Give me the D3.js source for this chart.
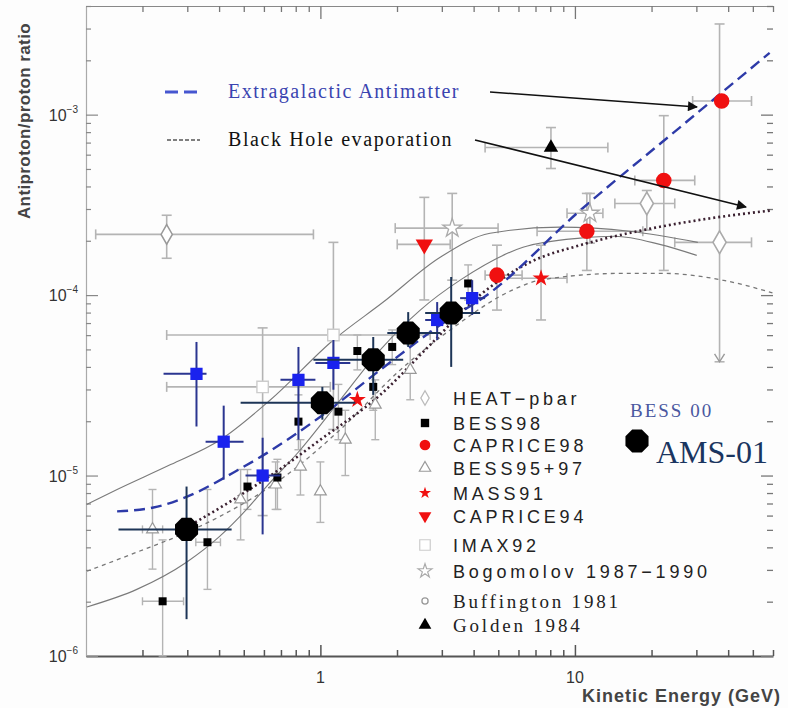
<!DOCTYPE html>
<html>
<head>
<meta charset="utf-8">
<script src="https://cdn.jsdelivr.net/npm/d3@7"></script>
<style>
body { margin: 0; background: #fff; }
svg { display: block; }
</style>
</head>
<body>
<div id="chart"></div>
<script>
// Axis ranges
const xDomain = [0.12, 60]
const yDomain = [1e-6, 4e-3]
const yMajorTicks = [1e-6, 1e-5, 1e-4, 1e-3]
const yTickExp = ['−6', '−5', '−4', '−3']
const xMajorTicks = [1, 10]
const xTickLabels = ['1', '10']

// Model curves [E (GeV), ratio]
const upperSolid = [[0.121, 6.92e-6], [0.159, 8.37e-6], [0.258, 1.15e-5], [0.405, 1.58e-5], [0.637, 2.63e-5],
    [1.125, 5.64e-5], [1.767, 9.15e-5], [2.956, 1.62e-4], [4.64, 2.2e-4], [8.73, 2.38e-4], [16.4, 2.26e-4], [30.4, 1.96e-4]]
const lowerSolid = [[0.121, 1.87e-6], [0.19, 2.34e-6], [0.298, 3.31e-6], [0.402, 4.6e-6], [0.513, 6.49e-6],
    [0.614, 8.69e-6], [0.835, 1.39e-5], [1.198, 2.63e-5], [1.719, 4.97e-5], [2.467, 8.26e-5], [3.54, 1.21e-4],
    [6.25, 1.84e-4], [10.47, 2.07e-4], [14.35, 2.12e-4], [21.54, 1.91e-4], [30.1, 1.66e-4]]
const extragalactic = [[0.159, 6.33e-6], [0.221, 6.65e-6], [0.301, 7.66e-6], [0.456, 1.04e-5], [0.62, 1.34e-5],
    [1.0, 2.12e-5], [1.719, 3.85e-5], [2.956, 6.82e-5], [4.64, 1.03e-4], [10.18, 2.84e-4], [25.8, 8.48e-4], [58.2, 2.2e-3]]
const blackHole = [[0.298, 5.16e-6], [0.456, 7.37e-6], [0.716, 1.12e-5], [1.0, 1.58e-5], [1.719, 2.8e-5],
    [2.7, 5.3e-5], [4.24, 1.0e-4], [6.66, 1.52e-4], [10.47, 1.89e-4], [18.48, 2.29e-4], [33.8, 2.66e-4], [59.7, 2.95e-4]]
const background = [[0.121, 2.95e-6], [0.19, 3.76e-6], [0.298, 4.84e-6], [0.402, 5.93e-6], [0.697, 9.5e-6],
    [1.198, 1.8e-5], [2.06, 3.85e-5], [3.236, 6.41e-5], [5.71, 1.07e-4], [7.29, 1.21e-4], [15.42, 1.32e-4],
    [22.1, 1.32e-4], [38.0, 1.21e-4], [59.7, 1.03e-4]]

// Measurements [E, ratio, Elo, Ehi, Rlo, Rhi]
const buffington = [[0.249, 2.17e-4, 0.131, 0.939, 1.6e-4, 2.77e-4]]
const heat = [[19.16, 3.22e-4, 14.35, 24.67, 2.29e-4, 3.8e-4], [37.0, 1.96e-4, 24.67, 49.4, 4.27e-5, 3.18e-3]]
const golden = [[8.05, 6.57e-4, 4.437, 13.47, 5.03e-4, 8.48e-4]]
const caprice98 = [[37.7, 1.19e-3, 29.0, 49.4, null, null], [22.34, 4.32e-4, 17.19, 29.56, 1.37e-4, 9.87e-4],
    [11.14, 2.26e-4, 7.1, 18.48, 1.37e-4, 3.66e-4], [4.94, 1.29e-4, 4.437, 6.2, 8.26e-5, 1.89e-4]]
const mass91 = [[1.397, 2.63e-5, null, null, null, null], [7.36, 1.24e-4, 4.86, 9.31, 7.28e-5, 1.89e-4]]
const caprice94 = [[2.56, 1.91e-4, 2.004, 3.236, 9.4e-5, 3.48e-4]]
const bogomolov = [[3.295, 2.35e-4, 1.968, 4.99, 1.21e-4, 3.66e-4], [11.45, 2.84e-4, 9.31, 12.88, 1.94e-4, 3.66e-4]]
const imax92 = [[0.593, 3.1e-5, 0.249, 1.094, 6e-6, 6.58e-5], [1.125, 6.01e-5, 0.249, 2.7, 1.8e-5, 1.96e-4]]
const bess9597 = [[0.219, 5.03e-6, 0.2, 0.24, 3.03e-6, 8.37e-6], [0.486, 7.37e-6, null, null, 4.4e-6, 1.08e-5],
    [0.667, 8.91e-6, null, null, 6.49e-6, 1.19e-5], [0.835, 1.12e-5, null, null, 7.8e-6, 1.58e-5],
    [1.0, 8.16e-6, null, null, 5.5e-6, 1.19e-5], [1.253, 1.58e-5, null, null, 1.0e-5, 2.3e-5],
    [1.643, 2.47e-5, null, null, 1.58e-5, 3.39e-5], [2.254, 3.85e-5, null, null, 2.63e-5, 5.3e-5]]
const bess98 = [[0.24, 2.01e-6, 0.2, 0.29, 1.0e-6, 4.4e-6], [0.36, 4.27e-6, 0.324, 0.405, 2.34e-6, 8.37e-6],
    [0.517, 8.69e-6, null, null, 6.49e-6, 1.08e-5], [0.678, 9.75e-6, null, null, 6.49e-6, 1.23e-5],
    [0.82, 1.99e-5, null, null, 1.39e-5, 2.8e-5], [1.177, 2.26e-5, null, null, 1.58e-5, 3.2e-5],
    [1.397, 4.9e-5, null, null, 3.85e-5, 6.01e-5], [1.613, 3.1e-5, null, null, 2.3e-5, 4.38e-5],
    [1.915, 5.16e-5, null, null, 4.12e-5, 6.41e-5], [3.806, 1.16e-4, null, null, 9.38e-5, 1.47e-4]]
const bess00 = [[0.326, 3.66e-5, 0.242, 0.357, 1.87e-5, 5.5e-5], [0.417, 1.54e-5, 0.354, 0.499, 9.5e-6, 2.44e-5],
    [0.593, 1.0e-5, 0.508, 0.697, 4.72e-6, 1.62e-5], [0.82, 3.39e-5, 0.697, 0.956, 1.58e-5, 5.16e-5],
    [1.125, 4.21e-5, 0.956, 1.311, 2.99e-5, 5.64e-5], [2.876, 7.28e-5, 2.58, 3.236, 5.64e-5, 9.15e-5],
    [3.948, 9.62e-5, 3.54, 4.437, 7.76e-5, 1.21e-4]]
const ams01 = [[0.298, 5.03e-6, 0.161, 0.448, 1.6e-6, 8.69e-6], [1.018, 2.53e-5, 0.486, 1.371, 2.04e-5, 3.1e-5],
    [1.613, 4.38e-5, 0.939, 2.115, 2.8e-5, 5.86e-5], [2.213, 6.17e-5, 1.832, 2.956, 5.16e-5, 8.05e-5],
    [3.265, 7.96e-5, 2.58, 4.24, 4.0e-5, 1.26e-4]]

const legendNames = ['HEAT−pbar', 'BESS98', 'CAPRICE98', 'BESS95+97', 'MASS91', 'CAPRICE94',
    'IMAX92', 'Bogomolov 1987−1990', 'Buffington 1981', 'Golden 1984']

// Styles
const greyBar = '#b4b4b4'
const navy = '#1d3557'
const redFill = '#f01010'
const blueFill = '#1a22ee'
const curveGrey = '#7a7a7a'

const width = 788, height = 708
const plotLeft = 86, plotRight = 773, plotTop = 6, plotBottom = 656

const svg = d3.select('#chart').append('svg')
    .attr('width', width).attr('height', height)
    .style('background', '#fdfdfd')

const x = d3.scaleLog().domain(xDomain).range([plotLeft, plotRight])
const y = d3.scaleLog().domain(yDomain).range([plotBottom, plotTop])

const defs = svg.append('defs')
defs.append('marker').attr('id', 'arrow')
    .attr('viewBox', '0 0 10 10').attr('refX', 9).attr('refY', 5)
    .attr('markerWidth', 14).attr('markerHeight', 10).attr('markerUnits', 'userSpaceOnUse')
    .attr('orient', 'auto')
    .append('path').attr('d', 'M0,0 L10,5 L0,10 Z').attr('fill', '#111')

// Frame and ticks
const minorX = x.ticks()
const minorY = y.ticks()
const ax = svg.append('g').attr('class', 'axes')

ax.append('g').attr('transform', `translate(0,${plotBottom})`)
    .call(d3.axisBottom(x).tickValues(minorX).tickSizeInner(-6).tickSizeOuter(0).tickFormat(''))
    .call(g => g.select('.domain').attr('stroke', '#555').attr('stroke-width', 2))
    .call(g => g.selectAll('.tick line').attr('stroke', '#555').attr('stroke-width', 1.5)
        .attr('y2', d => xMajorTicks.includes(d) ? -11 : -6))

ax.append('g').attr('transform', `translate(0,${plotTop})`)
    .call(d3.axisTop(x).tickValues(minorX).tickSizeInner(-6).tickSizeOuter(0).tickFormat(''))
    .call(g => g.select('.domain').attr('stroke', '#888').attr('stroke-width', 1.2))
    .call(g => g.selectAll('.tick line').attr('stroke', '#777').attr('stroke-width', 1.3)
        .attr('y2', d => xMajorTicks.includes(d) ? 13 : 6))

ax.append('g').attr('transform', `translate(${plotLeft},0)`)
    .call(d3.axisLeft(y).tickValues(minorY).tickSizeInner(-5).tickSizeOuter(0).tickFormat(''))
    .call(g => g.select('.domain').attr('stroke', '#aaa').attr('stroke-width', 1.2))
    .call(g => g.selectAll('.tick line').attr('stroke', '#888').attr('stroke-width', 1.2)
        .attr('x2', d => yMajorTicks.includes(d) ? 12 : 5))

ax.append('g').attr('transform', `translate(${plotRight},0)`)
    .call(d3.axisRight(y).tickValues(minorY).tickSizeInner(-6).tickSizeOuter(0).tickFormat(''))
    .call(g => g.select('.domain').attr('stroke', 'none'))
    .call(g => g.selectAll('.tick line').attr('stroke', '#777').attr('stroke-width', 1.3)
        .attr('x2', d => yMajorTicks.includes(d) ? -12 : -6))

// Tick labels
const yLab = svg.append('g').selectAll('text').data(yMajorTicks).join('text')
    .attr('x', 78).attr('y', d => y(d) + 6)
    .attr('text-anchor', 'end')
    .attr('font-family', 'Liberation Sans, Arial, sans-serif')
    .attr('font-size', 16).attr('fill', '#333')
yLab.append('tspan').text('10')
yLab.append('tspan').attr('dy', -8).attr('font-size', 10).text((d, i) => yTickExp[i])

svg.append('g').selectAll('text').data(xMajorTicks).join('text')
    .attr('x', d => x(d)).attr('y', 683)
    .attr('text-anchor', 'middle')
    .attr('font-family', 'Liberation Sans, Arial, sans-serif')
    .attr('font-size', 16).attr('fill', '#333')
    .text((d, i) => xTickLabels[i])

svg.append('text').attr('x', 781).attr('y', 702).attr('text-anchor', 'end')
    .attr('font-family', 'Liberation Sans, Arial, sans-serif').attr('font-weight', 'bold')
    .attr('font-size', 18).attr('letter-spacing', 1).attr('fill', '#444')
    .text('Kinetic Energy (GeV)')

svg.append('text').attr('transform', 'translate(30,121) rotate(-90)').attr('text-anchor', 'middle')
    .attr('font-family', 'Liberation Sans, Arial, sans-serif').attr('font-weight', 'bold')
    .attr('font-size', 17).attr('letter-spacing', 0.4).attr('fill', '#444')
    .text('Antiproton/proton ratio')

// Error bars
function errorBars(data, color, w, cap) {
    const g = svg.append('g').attr('stroke', color).attr('stroke-width', w).attr('fill', 'none')
    data.forEach(d => {
        const cx = x(d[0]), cy = y(d[1])
        if (d[2] != null) {
            g.append('line').attr('x1', x(d[2])).attr('x2', x(d[3])).attr('y1', cy).attr('y2', cy)
            if (cap) {
                g.append('line').attr('x1', x(d[2])).attr('x2', x(d[2])).attr('y1', cy - cap).attr('y2', cy + cap)
                g.append('line').attr('x1', x(d[3])).attr('x2', x(d[3])).attr('y1', cy - cap).attr('y2', cy + cap)
            }
        }
        if (d[4] != null) {
            g.append('line').attr('x1', cx).attr('x2', cx).attr('y1', y(d[4])).attr('y2', y(d[5]))
            if (cap) {
                g.append('line').attr('x1', cx - cap).attr('x2', cx + cap).attr('y1', y(d[4])).attr('y2', y(d[4]))
                g.append('line').attr('x1', cx - cap).attr('x2', cx + cap).attr('y1', y(d[5])).attr('y2', y(d[5]))
            }
        }
    })
}

errorBars(buffington, greyBar, 1.6, 5)
errorBars(heat, greyBar, 1.6, 5)
errorBars(golden, greyBar, 1.6, 5)
errorBars(caprice98, greyBar, 1.6, 5)
errorBars(mass91, greyBar, 1.6, 5)
errorBars(caprice94, greyBar, 1.6, 5)
errorBars(bogomolov, greyBar, 1.6, 5)
errorBars(imax92, greyBar, 1.6, 5)
errorBars(bess9597, greyBar, 1.4, 4)
errorBars(bess98, greyBar, 1.4, 4)

// HEAT upper limit arrow head
svg.append('path')
    .attr('d', `M${x(heat[1][0]) - 5},${y(heat[1][4]) - 8} L${x(heat[1][0])},${y(heat[1][4])} L${x(heat[1][0]) + 5},${y(heat[1][4]) - 8}`)
    .attr('fill', 'none').attr('stroke', '#999').attr('stroke-width', 1.4)

// Curves
const line = d3.line().x(d => x(d[0])).y(d => y(d[1])).curve(d3.curveMonotoneX)
svg.append('path').datum(upperSolid).attr('d', line).attr('fill', 'none').attr('stroke', curveGrey).attr('stroke-width', 1.1)
svg.append('path').datum(lowerSolid).attr('d', line).attr('fill', 'none').attr('stroke', curveGrey).attr('stroke-width', 1.1)
svg.append('path').datum(background).attr('d', line).attr('fill', 'none').attr('stroke', '#777')
    .attr('stroke-width', 1.3).attr('stroke-dasharray', '4,4')
svg.append('path').datum(blackHole).attr('d', line).attr('fill', 'none').attr('stroke', '#3a2030')
    .attr('stroke-width', 2.6).attr('stroke-dasharray', '2,3')
svg.append('path').datum(extragalactic).attr('d', line).attr('fill', 'none').attr('stroke', '#2d3aa8')
    .attr('stroke-width', 2.4).attr('stroke-dasharray', '11,6')

// Markers
function octagon(r) {
    const pts = d3.range(8).map(i => {
        const a = Math.PI / 8 + i * Math.PI / 4
        return [r * Math.cos(a), r * Math.sin(a)]
    })
    return 'M' + pts.join('L') + 'Z'
}
const sym = (type, size) => d3.symbol().type(type).size(size)()

function points(data, path, fill, stroke, sw, rot) {
    svg.append('g').selectAll('path').data(data).join('path')
        .attr('transform', d => `translate(${x(d[0])},${y(d[1])})` + (rot ? ` rotate(${rot})` : ''))
        .attr('d', path).attr('fill', fill).attr('stroke', stroke).attr('stroke-width', sw)
}

points(buffington, sym(d3.symbolDiamond, 110), '#fff', '#999', 1.5)
points(heat, sym(d3.symbolDiamond, 150), '#fff', '#aaa', 1.6)
points(imax92, sym(d3.symbolSquare, 130), '#fff', '#ccc', 1.4)
points(bogomolov, sym(d3.symbolStar, 110), '#fff', '#aaa', 1.3)
points(bess9597, sym(d3.symbolTriangle, 60), '#fff', '#999', 1.2)
points(bess98, sym(d3.symbolSquare, 64), '#000', 'none', 0)
points(golden, sym(d3.symbolTriangle, 90), '#000', 'none', 0)
points(caprice94, sym(d3.symbolTriangle, 130), redFill, 'none', 0, 180)
points(mass91, sym(d3.symbolStar, 90), redFill, 'none', 0)
points(caprice98, d3.symbol().type(d3.symbolCircle).size(190)(), redFill, 'none', 0)

errorBars(bess00, '#2a3590', 2, 0)
points(bess00, sym(d3.symbolSquare, 150), blueFill, 'none', 0)
errorBars(ams01, navy, 2, 0)
points(ams01, octagon(12.5), '#000', 'none', 0)

// Annotations
const serif = 'Liberation Serif, Times New Roman, serif'
svg.append('line').attr('x1', 165).attr('x2', 200).attr('y1', 92).attr('y2', 92)
    .attr('stroke', '#4656d0').attr('stroke-width', 3).attr('stroke-dasharray', '13,6')
svg.append('text').attr('x', 228).attr('y', 98).attr('font-family', serif).attr('font-size', 20)
    .attr('letter-spacing', 1.5).attr('fill', '#3a44b0').text('Extragalactic Antimatter')
svg.append('line').attr('x1', 167).attr('x2', 200).attr('y1', 140).attr('y2', 140)
    .attr('stroke', '#555').attr('stroke-width', 1.4).attr('stroke-dasharray', '4,2')
svg.append('text').attr('x', 228).attr('y', 146).attr('font-family', serif).attr('font-size', 20)
    .attr('letter-spacing', 1.6).attr('fill', '#111').text('Black Hole evaporation')

svg.append('line').attr('x1', 490).attr('y1', 92).attr('x2', 697).attr('y2', 107)
    .attr('stroke', '#111').attr('stroke-width', 1.6).attr('marker-end', 'url(#arrow)')
svg.append('line').attr('x1', 475).attr('y1', 140).attr('x2', 746).attr('y2', 207)
    .attr('stroke', '#111').attr('stroke-width', 1.6).attr('marker-end', 'url(#arrow)')

// Legend
const legendX = 425, legendTextX = 453
const legendBase = [405, 430, 452, 475, 500, 523, 552, 578, 608, 632]
const legendSyms = [
    [sym(d3.symbolDiamond, 60), '#fff', '#bbb', 1.3, 0],
    [sym(d3.symbolSquare, 70), '#000', 'none', 0, 0],
    [d3.symbol().type(d3.symbolCircle).size(90)(), redFill, 'none', 0, 0],
    [sym(d3.symbolTriangle, 55), '#fff', '#999', 1.2, 0],
    [sym(d3.symbolStar, 45), redFill, 'none', 0, 0],
    [sym(d3.symbolTriangle, 70), redFill, 'none', 0, 180],
    [sym(d3.symbolSquare, 110), '#fff', '#ccc', 1.2, 0],
    [sym(d3.symbolStar, 60), '#fff', '#aaa', 1.2, 0],
    [sym(d3.symbolCircle, 30), '#fff', '#999', 1.3, 0],
    [sym(d3.symbolTriangle, 70), '#000', 'none', 0, 0]
]
const leg = svg.append('g')
legendNames.forEach((name, i) => {
    const s = legendSyms[i]
    leg.append('path').attr('d', s[0])
        .attr('transform', `translate(${legendX},${legendBase[i] - 7}) rotate(${s[4]})`)
        .attr('fill', s[1]).attr('stroke', s[2]).attr('stroke-width', s[3])
    const isSerif = i >= 8
    leg.append('text').attr('x', legendTextX).attr('y', legendBase[i])
        .attr('font-family', isSerif ? serif : 'Liberation Sans, Arial, sans-serif')
        .attr('font-size', isSerif ? 19 : 18)
        .attr('letter-spacing', isSerif ? 2.8 : 3.8)
        .attr('fill', '#222').text(name)
})

svg.append('text').attr('x', 630).attr('y', 417).attr('font-family', serif).attr('font-size', 19)
    .attr('letter-spacing', 2).attr('fill', '#4a58a0').text('BESS 00')
svg.append('path').attr('d', octagon(12.5)).attr('transform', 'translate(637,441)').attr('fill', '#000')
svg.append('text').attr('x', 656).attr('y', 463).attr('font-family', serif).attr('font-size', 32)
    .attr('fill', '#1a3560').text('AMS-01')
</script>
</body>
</html>
